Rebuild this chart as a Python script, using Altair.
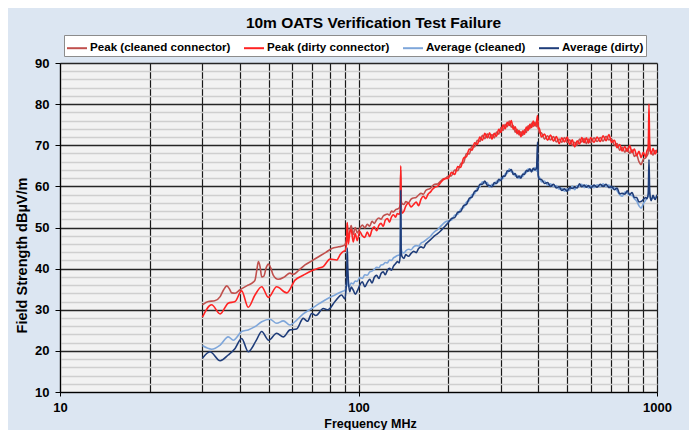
import altair as alt
import pandas as pd

SERIES = ["Peak (cleaned connector)", "Peak (dirty connector)",
          "Average (cleaned)", "Average (dirty)"]
COLORS = ["#C0504D", "#FF2323", "#7EA6DA", "#1F3D7A"]

# ---- low band (30-90 MHz), per series ----
PC_LOW_F = [30, 31.4, 33, 34.4, 35.3, 36.2, 37, 37.6, 38.6, 40, 42.7, 44, 45, 45.6, 46.2,
            46.8, 47.4, 48.2, 49.1, 49.9, 50.8, 51.8, 53.8, 56.5, 58.9, 60.4, 62.9, 66.2,
            69.8, 73.5, 77.5, 81.4, 85.8, 88.5]
PC_LOW_V = [31.2, 32.0, 32.2, 33.2, 34.8, 35.8, 35.0, 34.1, 34.0, 34.8, 36.0, 36.5, 37.2, 39.5, 41.7,
            40.5, 38.0, 38.2, 40.3, 41.1, 40.2, 38.4, 37.4, 38.0, 38.9, 38.6, 39.5, 40.9,
            41.9, 42.9, 43.9, 44.9, 45.3, 45.5]

PD_LOW_F = [30, 32.2, 34.4, 36.6, 38.6, 40.6, 42.7, 45, 47.4, 49.9, 53.2, 57.5, 61.3, 65.3,
            69.7, 73.3, 76.2, 80.3, 84.5, 87, 89]
PD_LOW_V = [28.2, 31.2, 29.0, 31.6, 32.0, 34.6, 30.6, 33.6, 35.6, 33.0, 35.6, 34.1, 37.2, 38.4,
            39.5, 40.1, 40.5, 42.3, 42.1, 43.5, 44.2]

AC_LOW_F = [30, 32.2, 34.4, 36.6, 38.1, 40.6, 42.7, 45, 47.4, 50.5, 53.2, 56, 58.9, 62.1,
            65.3, 69.7, 74.3, 79.2, 83.4, 87.8]
AC_LOW_V = [21.3, 20.4, 21.4, 23.4, 22.6, 24.7, 25.1, 25.9, 27.1, 27.7, 26.7, 27.3, 26.3, 27.5,
            29.0, 30.3, 31.6, 32.8, 33.6, 34.4]

AD_LOW_F = [30, 31.8, 34.4, 36.6, 38.6, 40.6, 42.7, 45.4, 47.4, 50, 53.2, 56, 58.9, 62, 65.3,
            67.5, 69.7, 72, 76.2, 79, 83.4, 87.8]
AD_LOW_V = [18.2, 19.8, 17.6, 19.0, 20.6, 23.0, 19.8, 22.5, 24.7, 22.6, 24.3, 23.4, 25.1, 25.3, 27.9,
            27.2, 29.1, 28.6, 30.3, 30.0, 32.0, 33.6]

# ---- mid band (90-200 MHz), shared frequencies ----
MID_F = [90, 91, 91.4, 91.7, 92, 92.5, 93.5, 94.5, 96, 97.5, 99, 101, 103, 105, 107, 109, 111,
         113, 115, 117, 119, 121, 123, 125, 127, 129, 131, 133, 135, 137, 138, 138.5, 139, 140,
         142, 144, 147, 150, 153, 156, 159, 162, 165, 168, 171, 174, 177, 180, 184, 188, 192, 196]
PC_MID = [45.8, 46.8, 48.5, 51.0, 48.8, 47.6, 49.0, 50.5, 48.3, 50.0, 48.7, 49.8, 50.6, 49.9, 50.8,
          50.3, 51.5, 51.0, 51.9, 52.3, 52.0, 52.8, 53.1, 53.3, 53.0, 54.0, 53.8, 54.3, 54.5, 54.8,
          55.6, 64.0, 56.5, 55.8, 55.6, 56.3, 56.0, 56.9, 57.2, 57.3, 57.9, 58.3, 58.1, 59.0, 59.3,
          59.5, 60.1, 60.5, 60.6, 61.2, 61.8, 62.0]
PD_MID = [44.3, 45.5, 48.0, 51.2, 48.5, 46.0, 48.8, 49.5, 46.5, 48.5, 46.8, 49.0, 48.0, 47.6, 48.9,
          47.8, 49.5, 50.2, 49.2, 50.5, 51.0, 50.3, 51.8, 52.2, 51.3, 52.6, 53.1, 52.5, 53.4, 53.2,
          54.5, 65.0, 55.0, 53.5, 54.0, 55.2, 55.9, 55.0, 55.6, 56.2, 55.3, 56.9, 57.6, 57.0, 58.1,
          58.6, 59.3, 59.8, 60.0, 60.8, 61.6, 61.9]
AC_MID = [34.7, 35.5, 37.5, 40.0, 37.0, 35.6, 35.8, 36.5, 36.3, 37.0, 36.9, 37.8, 37.6, 38.5, 38.4,
          39.2, 39.4, 39.8, 40.3, 40.2, 40.9, 41.0, 41.5, 41.4, 42.1, 42.0, 42.6, 42.9, 43.2, 43.3,
          44.5, 55.0, 45.0, 44.0, 43.8, 44.3, 44.7, 44.6, 45.3, 45.6, 45.5, 46.2, 46.5, 46.9, 47.4,
          47.8, 48.5, 49.0, 49.5, 50.2, 50.9, 51.4]
AD_MID = [32.6, 36.0, 40.5, 45.0, 41.0, 37.0, 34.4, 35.5, 34.8, 33.8, 34.5, 36.0, 36.8, 35.6, 36.6,
          37.4, 36.5, 37.9, 38.4, 37.6, 38.8, 39.2, 38.5, 39.6, 40.1, 39.6, 40.6, 41.2, 41.7, 41.4,
          43.5, 59.0, 44.0, 42.9, 42.5, 43.4, 43.0, 43.7, 44.2, 43.9, 44.9, 45.3, 45.0, 46.0, 46.5,
          47.0, 47.5, 48.0, 48.5, 49.1, 49.8, 50.5]

# ---- high band (200-1000 MHz), shared frequencies ----
HIGH_F = [200, 205, 210, 215, 220, 225, 230, 235, 240, 245, 250, 255, 260, 265, 270, 275, 280,
          285, 290, 295, 300, 305, 310, 315, 320, 325, 330, 335, 340, 345, 350, 355, 360, 365,
          370, 375, 380, 385, 390, 395, 398, 400, 403, 410, 420, 430, 440, 450, 460, 470, 480,
          490, 500, 510, 520, 530, 540, 550, 560, 570, 580, 590, 600, 615, 630, 645, 660, 675,
          690, 705, 720, 735, 750, 765, 780, 795, 810, 825, 840, 855, 870, 885, 900, 915, 925,
          935, 940, 945, 955, 970, 985, 1000]
PC_HIGH = [62.5, 62.6, 64.0, 63.8, 65.5, 65.8, 68.0, 67.9, 69.8, 69.6, 71.2, 70.9, 72.4, 71.6, 72.8,
           71.7, 72.6, 71.8, 73.2, 72.7, 74.3, 73.6, 75.1, 74.5, 75.9, 74.4, 74.8, 73.2, 73.9, 72.5,
           73.3, 72.4, 73.8, 73.1, 74.7, 74.0, 75.4, 74.6, 75.6, 74.5, 76.0, 74.8, 73.0, 73.0, 71.5,
           72.3, 71.3, 72.1, 70.8, 71.5, 70.7, 71.9, 70.7, 71.3, 70.0, 70.7, 70.0, 71.5, 70.8, 71.6,
           70.4, 71.5, 70.6, 71.8, 70.9, 71.9, 71.0, 72.2, 71.3, 71.5, 70.0, 70.4, 68.8, 69.5, 68.3,
           69.3, 68.0, 68.9, 67.3, 67.6, 66.0, 65.3, 66.6, 66.9, 67.4, 68.2, 73.5, 68.8, 68.4, 67.6,
           68.7, 68.2]
PD_HIGH = [62.0, 63.4, 62.9, 64.8, 64.6, 66.9, 67.2, 69.1, 68.8, 70.6, 70.2, 72.0, 71.2, 72.9, 71.8,
           73.0, 71.5, 72.9, 72.2, 73.9, 73.1, 75.0, 74.0, 75.6, 74.8, 76.0, 73.9, 74.5, 72.8, 73.6,
           72.1, 73.5, 72.7, 74.4, 73.6, 75.1, 74.3, 75.9, 74.7, 75.8, 77.2, 74.0, 74.2, 72.0, 72.7,
           71.2, 72.5, 71.0, 72.1, 70.4, 71.8, 70.8, 72.0, 70.2, 71.3, 69.6, 71.1, 70.3, 71.9, 70.6,
           71.8, 70.5, 71.9, 70.7, 72.0, 70.9, 72.3, 71.1, 72.6, 70.7, 71.2, 69.4, 70.2, 68.6, 69.7,
           68.5, 69.9, 68.2, 69.1, 67.5, 68.5, 67.0, 68.3, 67.2, 68.6, 69.5, 80.0, 70.5, 67.8, 69.2,
           67.9, 68.9]
AC_HIGH = [51.6, 51.8, 53.0, 53.2, 54.5, 54.8, 56.2, 56.5, 58.0, 58.2, 59.6, 59.9, 61.1, 60.7, 60.9,
           59.8, 60.5, 60.3, 61.3, 61.1, 62.0, 61.9, 63.1, 63.2, 64.3, 63.5, 63.5, 62.5, 62.7, 61.9,
           62.6, 62.4, 63.5, 63.3, 64.3, 63.7, 64.1, 63.8, 64.6, 63.7, 67.0, 62.2, 62.3, 61.1, 61.3,
           60.3, 60.6, 59.9, 60.2, 59.3, 59.6, 58.8, 59.4, 59.1, 60.1, 59.2, 60.2, 60.0, 60.5, 59.7,
           60.4, 59.6, 60.2, 59.7, 60.4, 59.9, 60.6, 59.9, 60.3, 59.4, 59.8, 58.9, 58.0, 57.6, 58.6,
           58.3, 57.9, 57.8, 57.0, 56.4, 55.3, 54.7, 55.8, 56.6, 57.2, 57.6, 61.0, 58.0, 56.9, 57.1,
           57.3, 57.5]
AD_HIGH = [51.2, 52.2, 52.4, 53.7, 53.9, 55.3, 55.6, 57.1, 57.4, 58.8, 59.0, 60.5, 60.5, 61.3, 60.3,
           60.2, 59.9, 60.9, 60.7, 61.7, 61.4, 62.5, 62.5, 63.8, 63.7, 64.1, 62.9, 63.1, 62.1, 62.5,
           62.0, 63.0, 62.9, 63.9, 63.7, 64.3, 63.5, 64.4, 64.0, 64.5, 70.8, 62.8, 61.8, 61.7, 60.7,
           60.9, 60.0, 60.5, 59.6, 59.9, 59.0, 59.4, 58.8, 59.7, 59.5, 59.8, 59.6, 60.6, 59.9, 60.3,
           59.8, 60.2, 59.6, 60.3, 59.8, 60.5, 60.0, 60.5, 59.7, 60.0, 59.2, 59.6, 58.2, 58.3, 58.1,
           58.9, 58.0, 58.5, 57.3, 57.3, 56.2, 56.3, 56.8, 57.3, 57.0, 58.3, 66.5, 58.8, 56.5, 57.8,
           56.8, 58.0]

parts = [
    (SERIES[0], PC_LOW_F, PC_LOW_V, PC_MID, PC_HIGH),
    (SERIES[1], PD_LOW_F, PD_LOW_V, PD_MID, PD_HIGH),
    (SERIES[2], AC_LOW_F, AC_LOW_V, AC_MID, AC_HIGH),
    (SERIES[3], AD_LOW_F, AD_LOW_V, AD_MID, AD_HIGH),
]
rows = []
for name, lf, lv, mv, hv in parts:
    for f, v in zip(lf + MID_F + HIGH_F, lv + mv + hv):
        rows.append({"series": name, "freq": f, "value": v})
df = pd.DataFrame(rows)

X_TICKS = [10, 20, 30, 40, 50, 60, 70, 80, 90, 100, 200, 300, 400, 500, 600, 700, 800, 900, 1000]
Y_TICKS = list(range(10, 91, 2))
FONT = "Liberation Sans"
MAJOR_X = "datum.value == 10 || datum.value == 100 || datum.value == 1000"
MAJOR_Y = "datum.value % 10 == 0"

chart = alt.Chart(df).mark_line(strokeWidth=1.6, interpolate="monotone", clip=True).encode(
    x=alt.X("freq:Q",
            scale=alt.Scale(type="log", domain=[10, 1000], nice=False),
            axis=alt.Axis(values=X_TICKS, format="d",
                          labelExpr="(" + MAJOR_X + ") ? datum.label : ''",
                          labelFlush=False, labelOverlap=False,
                          labelFont=FONT, labelFontSize=13, labelFontWeight="bold",
                          labelColor="black", labelPadding=5,
                          tickSize=4, tickColor="black",
                          tickOpacity={"condition": {"test": MAJOR_X, "value": 1}, "value": 0},
                          gridColor="#1A1A1A", gridWidth=1.2,
                          domainColor="black", domainWidth=1.2,
                          title="Frequency MHz", titleFont=FONT, titleFontSize=12.5,
                          titleFontWeight="bold", titleColor="black",
                          titleX=310, titleY=25)),
    y=alt.Y("value:Q",
            scale=alt.Scale(domain=[10, 90], nice=False, zero=False),
            axis=alt.Axis(values=Y_TICKS,
                          labelExpr="(" + MAJOR_Y + ") ? datum.label : ''",
                          labelOverlap=False,
                          labelFont=FONT, labelFontSize=13, labelFontWeight="bold",
                          labelColor="black", labelPadding=6,
                          tickSize=5, tickColor="black",
                          tickOpacity={"condition": {"test": MAJOR_Y, "value": 1}, "value": 0},
                          gridColor={"condition": {"test": MAJOR_Y, "value": "#262626"}, "value": "#CFCFCF"},
                          gridWidth={"condition": {"test": MAJOR_Y, "value": 1.3}, "value": 1.6},
                          domainColor="black", domainWidth=1.2,
                          title="Field Strength dBµV/m", titleFont=FONT, titleFontSize=14.5,
                          titleFontWeight="bold", titleColor="black",
                          titleX=-31, titleY=192)),
    color=alt.Color("series:N", sort=SERIES,
                    scale=alt.Scale(domain=SERIES, range=COLORS),
                    legend=alt.Legend(title=None, orient="none", legendX=4, legendY=-28,
                                      direction="horizontal", columns=4,
                                      symbolType="stroke", symbolSize=400, symbolStrokeWidth=2,
                                      labelFont=FONT, labelFontSize=11.6, labelFontWeight="bold",
                                      labelColor="black", labelOffset=2, columnPadding=9,
                                      padding=2, fillColor="white", strokeColor="#8C8C8C")),
).properties(
    width=597, height=329,
    title=alt.TitleParams("10m OATS Verification Test Failure", font=FONT, fontSize=15.5,
                          fontWeight="bold", color="black", anchor="middle", frame="group",
                          baseline="alphabetic", offset=7, dx=15, dy=16),
    autosize=alt.AutoSizeParams(type="none"),
    padding={"left": 52, "top": 55, "right": 32, "bottom": 38},
).configure(
    background="#DCE6F2",
).configure_view(
    fill="#F2F2F2", stroke="transparent",
)

chart.save("out.html", embed_options={"renderer": "svg", "actions": False})
